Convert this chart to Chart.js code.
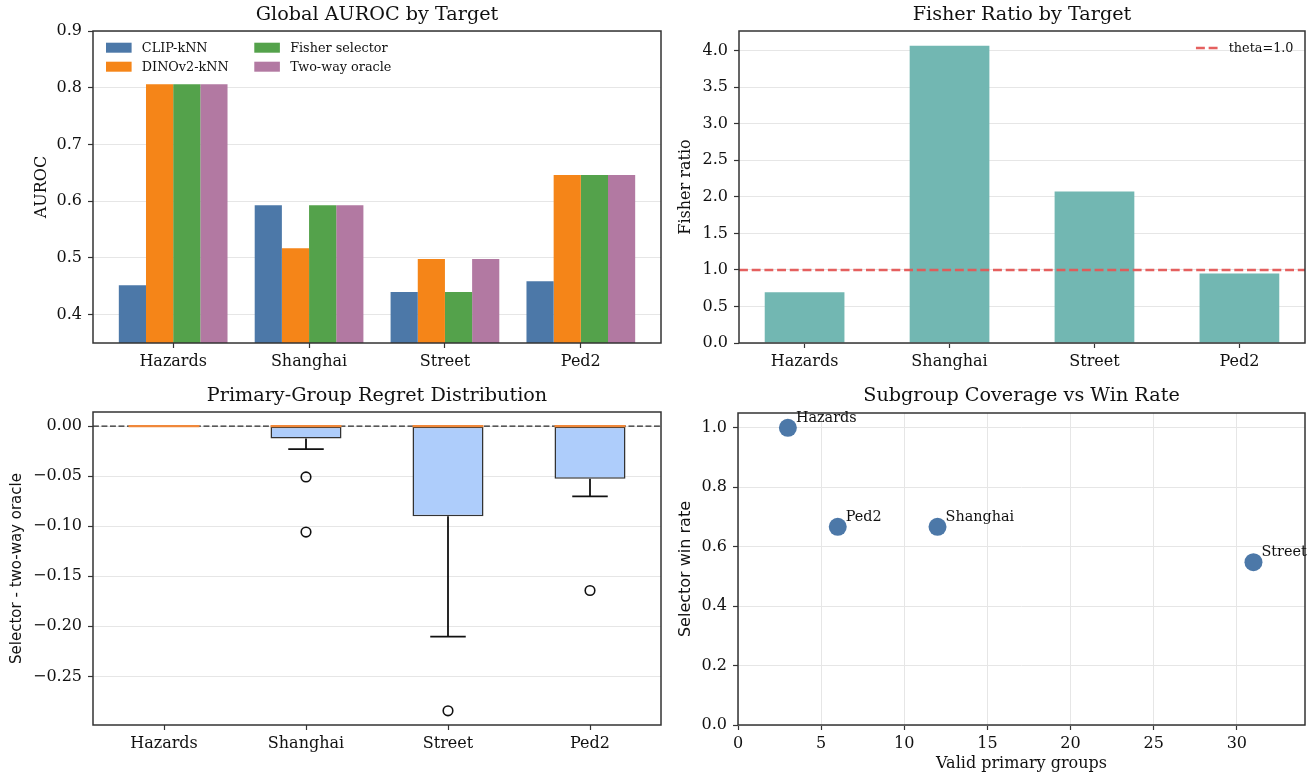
<!DOCTYPE html>
<html>
<head>
<meta charset="utf-8">
<title>Selector evaluation summary</title>
<script src="https://cdn.jsdelivr.net/npm/chart.js@4.4.1/dist/chart.umd.min.js"></script>
<style>
  html, body { margin: 0; padding: 0; background: #ffffff; }
  body { width: 1315px; height: 778px; position: relative; overflow: hidden; }
  canvas { position: absolute; }
</style>
</head>
<body>
<canvas id="aurocChart" width="670" height="380" style="left:0;top:0;width:670px;height:380px"></canvas>
<canvas id="fisherChart" width="645" height="380" style="left:670px;top:0;width:645px;height:380px"></canvas>
<canvas id="regretChart" width="670" height="398" style="left:0;top:380px;width:670px;height:398px"></canvas>
<canvas id="coverageChart" width="645" height="398" style="left:670px;top:380px;width:645px;height:398px"></canvas>
<script>
// ---- data ----
const targets = ['Hazards', 'Shanghai', 'Street', 'Ped2'];

const clipKnn        = [0.452, 0.593, 0.440, 0.459];
const dinoKnn        = [0.806, 0.517, 0.498, 0.646];
const fisherSelector = [0.806, 0.593, 0.440, 0.646];
const twoWayOracle   = [0.806, 0.593, 0.498, 0.646];

const fisherRatio = [0.695, 4.067, 2.072, 0.952];
const theta = 1.0;

// per-target regret summaries (selector minus two-way oracle)
const regretQ1          = [0, -0.0123, -0.0901, -0.0524];
const regretQ3          = [0, 0, 0, 0];
const regretMedian      = [0, 0, 0, 0];
const regretWhiskerLow  = [0, -0.0230, -0.2103, -0.0701];
const regretWhiskerHigh = [0, 0, 0, 0];
const regretOutliers    = [[], [-0.0507, -0.1058], [-0.2844], [-0.1642]];

const validGroups = [3, 12, 31, 6];
const winRate     = [1.0, 0.667, 0.548, 0.667];

const aurocTicks  = [0.4, 0.5, 0.6, 0.7, 0.8, 0.9];
const fisherTicks = [0, 0.5, 1.0, 1.5, 2.0, 2.5, 3.0, 3.5, 4.0];
const regretTicks = [0, -0.05, -0.10, -0.15, -0.20, -0.25];
const groupTicks  = [0, 5, 10, 15, 20, 25, 30];
const winTicks    = [0, 0.2, 0.4, 0.6, 0.8, 1.0];

// ---- styling ----
const INK = '#111111';
const SPINE = '#333333';
const GRID = '#e6e6e6';
const SERIF = "'DejaVu Serif', serif";
const SANS = "'DejaVu Sans', sans-serif";

Chart.defaults.font.family = SERIF;
Chart.defaults.font.size = 16;
Chart.defaults.color = INK;

const fixedTicks = values => scale => { scale.ticks = values.map(v => ({ value: v })); };
const oneDecimal = v => Number(v).toFixed(1);
const signedTwo = v => (v < -1e-9 ? '\u2212' : '') + Math.abs(v).toFixed(2);

function xAxis({ min, max, ticks, labels, fmt, height, grid = false, title = null }) {
  return {
    type: 'linear', min, max, bounds: 'data', offset: false,
    afterBuildTicks: fixedTicks(ticks),
    afterFit: s => { s.height = height; },
    border: { display: false },
    grid: { display: true, drawOnChartArea: grid, color: GRID, lineWidth: 1,
            drawTicks: true, tickLength: 5, tickColor: SPINE, tickWidth: 1.2, offset: false },
    ticks: { autoSkip: false, maxRotation: 0, padding: 4, color: INK, font: { size: 16 },
             callback: labels ? ((v, i) => labels[i]) : fmt },
    title: title ? { display: true, text: title, color: INK, font: { size: 16, family: SERIF },
                     padding: { top: 0, bottom: 5 } } : { display: false }
  };
}

function yAxis({ min, max, ticks, fmt, width, title, titleFamily = SERIF, titleSize = 16, titlePad }) {
  return {
    type: 'linear', min, max, bounds: 'data', beginAtZero: false,
    afterBuildTicks: fixedTicks(ticks),
    afterFit: s => { s.width = width; },
    border: { display: false },
    grid: { color: GRID, lineWidth: 1, drawTicks: true, tickLength: 5, tickColor: SPINE, tickWidth: 1.2 },
    ticks: { padding: 6, color: INK, font: { size: 16 }, callback: fmt },
    title: { display: true, text: title, color: INK, font: { size: titleSize, family: titleFamily },
             padding: { top: titlePad, bottom: 0 } }
  };
}

function titleOpts(text, top, bottom) {
  return { display: true, text, fullSize: false, color: INK,
           font: { size: 19.2, weight: 'normal', family: SERIF, lineHeight: 1.2 },
           padding: { top, bottom } };
}

// axes frame on all four sides
const framePlugin = {
  id: 'frame',
  afterDatasetsDraw(chart) {
    const { ctx, chartArea: a } = chart;
    ctx.save();
    ctx.strokeStyle = SPINE;
    ctx.lineWidth = 1.5;
    ctx.strokeRect(a.left, a.top, a.right - a.left, a.bottom - a.top);
    ctx.restore();
  }
};

const baseOptions = (padRight) => ({
  responsive: false, animation: false, events: [],
  layout: { padding: { left: 0, right: padRight, top: 0, bottom: 0 } }
});

// ---- Global AUROC by Target ----
const aurocSeries = [
  { label: 'CLIP-kNN',        values: clipKnn,        color: '#4c78a8' },
  { label: 'DINOv2-kNN',      values: dinoKnn,        color: '#f58518' },
  { label: 'Fisher selector', values: fisherSelector, color: '#54a24b' },
  { label: 'Two-way oracle',  values: twoWayOracle,   color: '#b279a2' }
];

// two-column legend, filled column by column
const aurocLegend = {
  id: 'aurocLegend',
  afterDraw(chart) {
    const { ctx, chartArea: a } = chart;
    const ds = chart.data.datasets;
    const fontPx = 12.8;
    ctx.save();
    ctx.font = `${fontPx}px ${SERIF}`;
    ctx.textBaseline = 'middle';
    ctx.textAlign = 'left';
    const rows = 2, handle = 25.6, pad = 10.24, colGap = 25.6, rowStep = 19;
    let colX = a.left + 13;
    for (let c = 0; c * rows < ds.length; c++) {
      const items = ds.slice(c * rows, c * rows + rows);
      let maxW = 0;
      items.forEach((d, r) => {
        const top = a.top + 11.7 + r * rowStep;
        ctx.fillStyle = d.backgroundColor;
        ctx.fillRect(colX, top, handle, 10);
        ctx.fillStyle = INK;
        ctx.fillText(d.label, colX + handle + pad, top + 5.5);
        maxW = Math.max(maxW, ctx.measureText(d.label).width);
      });
      colX += handle + pad + maxW + colGap;
    }
    ctx.restore();
  }
};

new Chart(document.getElementById('aurocChart'), {
  type: 'bar',
  data: {
    datasets: aurocSeries.map(s => ({
      label: s.label,
      data: s.values.map((v, i) => ({ x: i, y: v })),
      backgroundColor: s.color,
      borderWidth: 0,
      categoryPercentage: 0.8,
      barPercentage: 1.0,
      clip: 0
    }))
  },
  options: {
    ...baseOptions(9),
    scales: {
      x: xAxis({ min: -0.59, max: 3.59, ticks: [0, 1, 2, 3], labels: targets, height: 37 }),
      y: yAxis({ min: 0.35, max: 0.9, ticks: aurocTicks, fmt: oneDecimal, width: 93,
                 title: 'AUROC', titlePad: 32.4 })
    },
    plugins: {
      legend: { display: false }, tooltip: { enabled: false },
      title: titleOpts('Global AUROC by Target', 3.4, 4.56)
    }
  },
  plugins: [framePlugin, aurocLegend]
});

// ---- Fisher Ratio by Target ----
const fisherXMin = -0.4525, fisherXMax = 3.4525;

const thetaLegend = {
  id: 'thetaLegend',
  afterDraw(chart) {
    const { ctx, chartArea: a } = chart;
    const line = chart.data.datasets[1];
    ctx.save();
    ctx.font = `12.8px ${SERIF}`;
    ctx.textBaseline = 'middle';
    ctx.textAlign = 'left';
    const w = ctx.measureText(line.label).width;
    const tx = a.right - 11.5 - w;
    const y = a.top + 17;
    ctx.strokeStyle = line.borderColor;
    ctx.lineWidth = line.borderWidth;
    ctx.setLineDash(line.borderDash);
    ctx.beginPath();
    ctx.moveTo(tx - 10.24 - 22.5, y);
    ctx.lineTo(tx - 10.24, y);
    ctx.stroke();
    ctx.setLineDash([]);
    ctx.fillStyle = INK;
    ctx.fillText(line.label, tx, y + 0.5);
    ctx.restore();
  }
};

new Chart(document.getElementById('fisherChart'), {
  type: 'bar',
  data: {
    datasets: [
      {
        label: 'Fisher ratio',
        data: fisherRatio.map((v, i) => ({ x: i, y: v })),
        backgroundColor: '#72b7b2',
        borderWidth: 0,
        categoryPercentage: 0.55,
        barPercentage: 1.0,
        clip: 0,
        order: 1
      },
      {
        type: 'line',
        label: 'theta=' + theta.toFixed(1),
        data: [{ x: fisherXMin, y: theta }, { x: fisherXMax, y: theta }],
        borderColor: 'rgba(228, 87, 86, 0.95)',
        borderWidth: 2.4,
        borderDash: [8.9, 3.8],
        pointRadius: 0,
        fill: false,
        order: 0
      }
    ]
  },
  options: {
    ...baseOptions(10),
    scales: {
      x: xAxis({ min: fisherXMin, max: fisherXMax, ticks: [0, 1, 2, 3], labels: targets, height: 37 }),
      y: yAxis({ min: 0, max: 4.27, ticks: fisherTicks, fmt: oneDecimal, width: 69,
                 title: 'Fisher ratio', titlePad: 6.4 })
    },
    plugins: {
      legend: { display: false }, tooltip: { enabled: false },
      title: titleOpts('Fisher Ratio by Target', 3.4, 4.56)
    }
  },
  plugins: [framePlugin, thetaLegend]
});

// ---- Primary-Group Regret Distribution ----
const boxHalf = 0.25, capHalf = 0.125;
const segments = (pairs) => {
  const pts = [];
  pairs.forEach(([a, b]) => { pts.push(a, b, { x: a.x, y: null }); });
  return pts;
};

const whiskerPts = segments(targets.flatMap((_, i) => [
  [{ x: i + 1, y: regretQ1[i] }, { x: i + 1, y: regretWhiskerLow[i] }],
  [{ x: i + 1, y: regretQ3[i] }, { x: i + 1, y: regretWhiskerHigh[i] }]
]));
const capPts = segments(targets.flatMap((_, i) => [
  [{ x: i + 1 - capHalf, y: regretWhiskerLow[i] }, { x: i + 1 + capHalf, y: regretWhiskerLow[i] }],
  [{ x: i + 1 - capHalf, y: regretWhiskerHigh[i] }, { x: i + 1 + capHalf, y: regretWhiskerHigh[i] }]
]));
const medianPts = segments(targets.map((_, i) =>
  [{ x: i + 1 - boxHalf, y: regretMedian[i] }, { x: i + 1 + boxHalf, y: regretMedian[i] }]
));
const outlierPts = regretOutliers.flatMap((vals, i) => vals.map(v => ({ x: i + 1, y: v })));

new Chart(document.getElementById('regretChart'), {
  type: 'bar',
  data: {
    datasets: [
      {
        label: 'IQR',
        data: targets.map((_, i) => ({ x: i + 1, y: [regretQ1[i], regretQ3[i]] })),
        backgroundColor: '#aecdfb',
        borderColor: '#333333',
        borderWidth: 1.5,
        borderSkipped: false,
        categoryPercentage: 0.5,
        barPercentage: 1.0,
        order: 5
      },
      {
        type: 'line', label: 'whiskers', data: whiskerPts,
        borderColor: '#111111', borderWidth: 1.8, pointRadius: 0, spanGaps: false, order: 4
      },
      {
        type: 'line', label: 'caps', data: capPts,
        borderColor: '#111111', borderWidth: 1.8, pointRadius: 0, spanGaps: false, order: 3
      },
      {
        type: 'line', label: 'zero',
        data: [{ x: 0.5, y: 0 }, { x: 4.5, y: 0 }],
        borderColor: 'rgba(20,20,20,0.9)', borderWidth: 1.3, borderDash: [5.9, 2.6],
        pointRadius: 0, order: 2
      },
      {
        type: 'line', label: 'median', data: medianPts,
        borderColor: '#f0883a', borderWidth: 2.2, pointRadius: 0, spanGaps: false, order: 1
      },
      {
        type: 'line', label: 'outliers', data: outlierPts, showLine: false,
        pointRadius: 4.8, pointBorderWidth: 1.6, pointBorderColor: '#111111',
        pointBackgroundColor: 'rgba(0,0,0,0)', order: 0
      }
    ]
  },
  options: {
    ...baseOptions(9),
    scales: {
      x: xAxis({ min: 0.5, max: 4.5, ticks: [1, 2, 3, 4], labels: targets, height: 53 }),
      y: yAxis({ min: -0.2986, max: 0.0142, ticks: regretTicks, fmt: signedTwo, width: 93,
                 title: 'Selector - two-way oracle', titleFamily: SANS, titleSize: 15, titlePad: 8 })
    },
    plugins: {
      legend: { display: false }, tooltip: { enabled: false },
      title: titleOpts('Primary-Group Regret Distribution', 4.5, 4.46)
    }
  },
  plugins: [framePlugin]
});

// ---- Subgroup Coverage vs Win Rate ----
const pointLabels = {
  id: 'pointLabels',
  afterDatasetsDraw(chart) {
    const { ctx } = chart;
    const meta = chart.getDatasetMeta(0);
    ctx.save();
    ctx.font = `14.4px ${SERIF}`;
    ctx.fillStyle = INK;
    ctx.textAlign = 'left';
    ctx.textBaseline = 'alphabetic';
    meta.data.forEach((pt, i) => ctx.fillText(targets[i], pt.x + 8, pt.y - 6));
    ctx.restore();
  }
};

new Chart(document.getElementById('coverageChart'), {
  type: 'scatter',
  data: {
    datasets: [{
      label: 'targets',
      data: validGroups.map((g, i) => ({ x: g, y: winRate[i] })),
      backgroundColor: '#4c78a8',
      borderWidth: 0,
      pointRadius: 9
    }]
  },
  options: {
    ...baseOptions(10),
    scales: {
      x: xAxis({ min: 0, max: 34.1, ticks: groupTicks, fmt: v => String(v), height: 53, grid: true,
                 title: 'Valid primary groups' }),
      y: yAxis({ min: 0, max: 1.05, ticks: winTicks, fmt: oneDecimal, width: 68,
                 title: 'Selector win rate', titleFamily: SANS, titleSize: 16, titlePad: 6.4 })
    },
    plugins: {
      legend: { display: false }, tooltip: { enabled: false },
      title: titleOpts('Subgroup Coverage vs Win Rate', 4.5, 5.46)
    }
  },
  plugins: [framePlugin, pointLabels]
});
</script>
</body>
</html>
